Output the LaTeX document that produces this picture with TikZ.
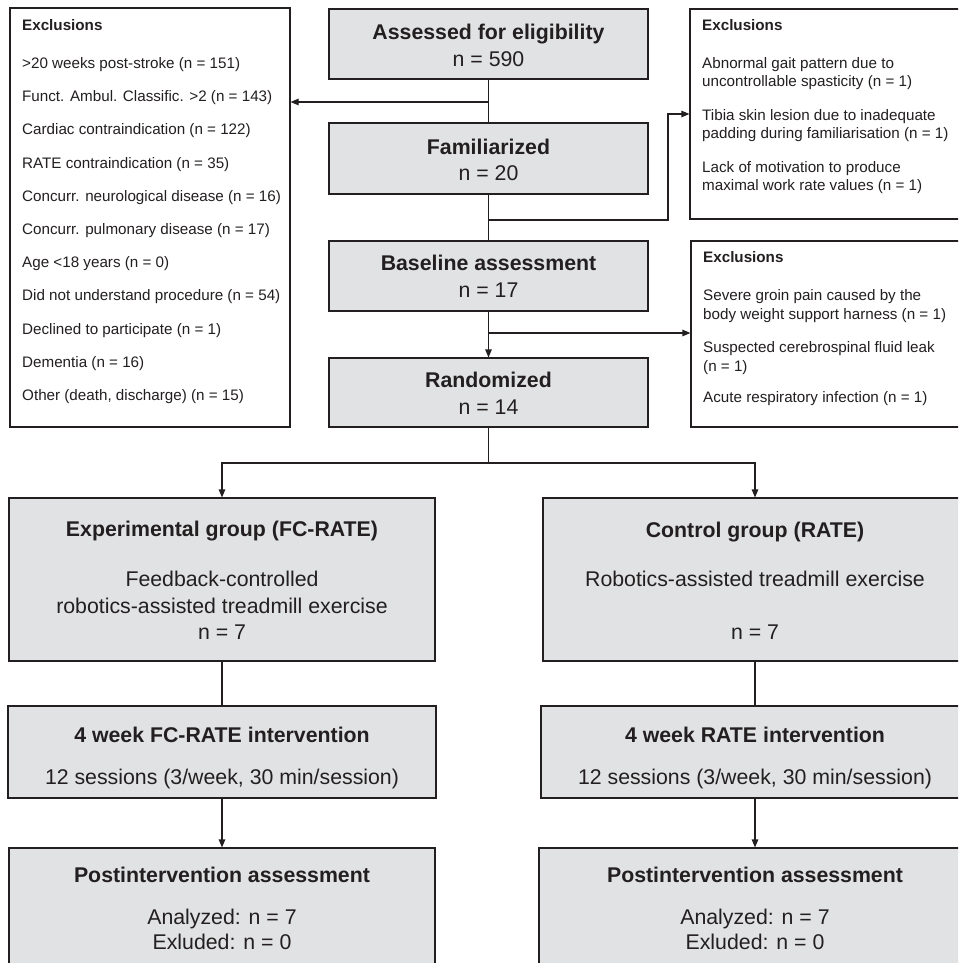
\documentclass[tikz,border=0pt]{standalone}
\usepackage{fontspec}
\setmainfont{Liberation Sans}
\usetikzlibrary{arrows.meta}
\definecolor{lc}{HTML}{231F20}
\definecolor{tc}{HTML}{231F20}
\definecolor{gfill}{HTML}{E1E2E3}
\tikzset{
  gbox/.style={draw=lc, fill=gfill, line width=1.1pt, rectangle, inner sep=0pt},
  wbox/.style={draw=lc, fill=white, line width=1.1pt, rectangle, inner sep=0pt},
  big/.style={font=\fontsize{21.3}{26}\selectfont, text=tc, anchor=base, inner sep=0pt},
  bigb/.style={big, font=\fontsize{21.3}{26}\selectfont\bfseries},
  sm/.style={font=\fontsize{15.2}{19}\selectfont, text=tc, anchor=base west, inner sep=0pt},
  smb/.style={sm, font=\fontsize{15.2}{19}\selectfont\bfseries},
  conn/.style={draw=lc, line width=1.1pt},
  arr/.style={conn, -{Triangle[length=8pt,width=6.5pt]}}
}
\begin{document}
\begin{tikzpicture}[x=1pt,y=-1pt]
\useasboundingbox (0,0) rectangle (958,963);
\clip (0,0) rectangle (958,963);
% boxes
\node[wbox, minimum width=280, minimum height=419] (exL) at (150,217.5) {};
\node[gbox, minimum width=319, minimum height=70] (assess) at (488.5,44) {};
\node[gbox, minimum width=319, minimum height=71] (famil) at (488.5,158.5) {};
\node[gbox, minimum width=319, minimum height=70] (base) at (488.5,276) {};
\node[gbox, minimum width=319, minimum height=69] (rand) at (488.5,392.5) {};
\node[wbox, minimum width=280, minimum height=210] (exTR) at (830,114) {};
\node[wbox, minimum width=279, minimum height=186] (exMR) at (830.5,334) {};
\node[gbox, minimum width=426, minimum height=163] (exp) at (222,579.5) {};
\node[gbox, minimum width=424, minimum height=163] (ctrl) at (755,579.5) {};
\node[gbox, minimum width=428, minimum height=92] (wkL) at (222,752) {};
\node[gbox, minimum width=428, minimum height=92] (wkR) at (755,752) {};
\node[gbox, minimum width=426, minimum height=150] (postL) at (222,923) {};
\node[gbox, minimum width=432, minimum height=150] (postR) at (755,923) {};
% connectors
\coordinate (jL) at (488.5,102);
\coordinate (jR) at (488.5,220);
\coordinate (kR) at (668,220);
\coordinate (jM) at (488.5,333);
\coordinate (split) at (488.5,463);
\draw[conn] (assess.south) -- (famil.north);
\draw[arr] (jL) -- (exL.east |- jL);
\draw[conn] (famil.south) -- (base.north);
\draw[arr] (jR) -- (kR) |- (exTR.west);
\draw[arr] (base.south) -- (rand.north);
\draw[arr] (jM) -- (exMR.west |- jM);
\draw[conn] (rand.south) -- (split);
\draw[arr] (split) -| (exp.north);
\draw[arr] (split) -| (ctrl.north);
\draw[conn] (exp.south) -- (wkL.north);
\draw[conn] (ctrl.south) -- (wkR.north);
\draw[arr] (wkL.south) -- (postL.north);
\draw[arr] (wkR.south) -- (postR.north);
% centre texts
\node[bigb] at (488.5,39.6) {Assessed for eligibility};
\node[big] at (488.5,66.6) {n = 590};
\node[bigb] at (488.5,154.6) {Familiarized};
\node[big] at (488.5,180.6) {n = 20};
\node[bigb] at (488.5,270.6) {Baseline assessment};
\node[big] at (488.5,297.6) {n = 17};
\node[bigb] at (488.5,387.6) {Randomized};
\node[big] at (488.5,414.6) {n = 14};
% group texts
\node[bigb] at (222,536.6) {Experimental group (FC-RATE)};
\node[big] at (222,586.6) {Feedback-controlled};
\node[big] at (222,613.6) {robotics-assisted treadmill exercise};
\node[big] at (222,639.6) {n = 7};
\node[bigb] at (755,537.6) {Control group (RATE)};
\node[big] at (755,586.6) {Robotics-assisted treadmill exercise};
\node[big] at (755,639.6) {n = 7};
\node[bigb] at (222,742.6) {4 week FC-RATE intervention};
\node[big] at (222,784.6) {12 sessions (3/week, 30 min/session)};
\node[bigb] at (755,742.6) {4 week RATE intervention};
\node[big] at (755,784.6) {12 sessions (3/week, 30 min/session)};
\node[bigb] at (222,882.6) {Postintervention assessment};
\node[big] at (222,924.6) {Analyzed: n = 7};
\node[big] at (222,949.6) {Exluded: n = 0};
\node[bigb] at (755,882.6) {Postintervention assessment};
\node[big] at (755,924.6) {Analyzed: n = 7};
\node[big] at (755,949.6) {Exluded: n = 0};
% left exclusions
\node[smb] at (22,30.4) {Exclusions};
\foreach \t [count=\i from 0] in {%
  {>20 weeks post-stroke (n = 151)},
  {Funct. Ambul. Classific. >2 (n = 143)},
  {Cardiac contraindication (n = 122)},
  {RATE contraindication (n = 35)},
  {Concurr. neurological disease (n = 16)},
  {Concurr. pulmonary disease (n = 17)},
  {Age <18 years (n = 0)},
  {Did not understand procedure (n = 54)},
  {Declined to participate (n = 1)},
  {Dementia (n = 16)},
  {Other (death, discharge) (n = 15)}}
  \node[sm] at (22,{68.4+33.2*\i}) {\t};
% top-right exclusions
\node[smb] at (702,30.4) {Exclusions};
\node[sm] at (702,68.4) {Abnormal gait pattern due to};
\node[sm] at (702,86.8) {uncontrollable spasticity (n = 1)};
\node[sm] at (702,120.4) {Tibia skin lesion due to inadequate};
\node[sm] at (702,138.8) {padding during familiarisation (n = 1)};
\node[sm] at (702,172.4) {Lack of motivation to produce};
\node[sm] at (702,190.8) {maximal work rate values (n = 1)};
% middle-right exclusions
\node[smb] at (703,262.4) {Exclusions};
\node[sm] at (703,300.4) {Severe groin pain caused by the};
\node[sm] at (703,319.4) {body weight support harness (n = 1)};
\node[sm] at (703,352.4) {Suspected cerebrospinal fluid leak};
\node[sm] at (703,371.4) {(n = 1)};
\node[sm] at (703,402.4) {Acute respiratory infection (n = 1)};
\end{tikzpicture}
\end{document}
